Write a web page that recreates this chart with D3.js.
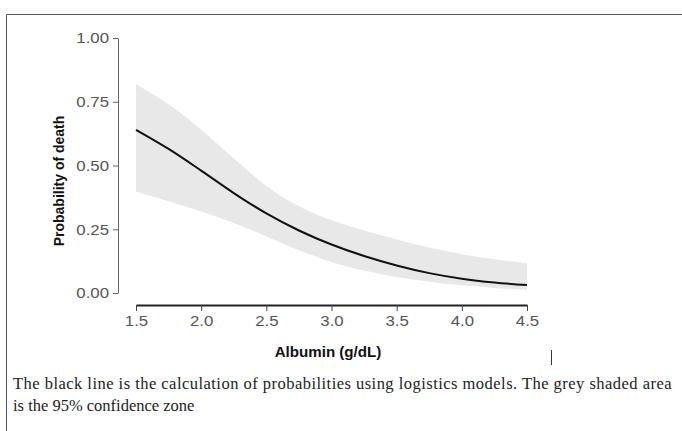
<!DOCTYPE html>
<html>
<head>
<meta charset="utf-8">
<script src="https://cdn.jsdelivr.net/npm/d3@7"></script>
<style>
  body { margin: 0; background: #fff; }
  svg { display: block; }
</style>
</head>
<body>
<div id="chart"></div>
<script>
// albumin values (g/dL) and the probabilities
const albumin = [1.5, 1.75, 2.0, 2.25, 2.5, 2.75, 3.0, 3.25, 3.5, 3.75, 4.0, 4.25, 4.5];
const probability = [0.64, 0.565, 0.48, 0.392, 0.312, 0.245, 0.19, 0.145, 0.108, 0.078, 0.056, 0.041, 0.031];
const upperCI = [0.82, 0.74, 0.64, 0.528, 0.42, 0.34, 0.285, 0.245, 0.21, 0.178, 0.152, 0.132, 0.116];
const lowerCI = [0.397, 0.36, 0.32, 0.275, 0.222, 0.168, 0.122, 0.088, 0.063, 0.044, 0.03, 0.02, 0.012];

const xTicks = [1.5, 2.0, 2.5, 3.0, 3.5, 4.0, 4.5];
const yTicks = [0, 0.25, 0.5, 0.75, 1.0];

const width = 682, height = 431;
const sans = "Liberation Sans, Arial, sans-serif";

const svg = d3.select("#chart")
  .append("svg")
  .attr("width", width)
  .attr("height", height);

// frame (top and left edge of the figure box)
svg.append("path")
  .attr("d", "M6.5,431 V14.5 H682")
  .attr("fill", "none")
  .attr("stroke", "#555")
  .attr("stroke-width", 1);

const x = d3.scaleLinear().domain([1.5, 4.5]).range([136, 527]);
const y = d3.scaleLinear().domain([0, 1]).range([293, 38]);

const data = albumin.map((a, i) => ({a: a, p: probability[i], lo: lowerCI[i], hi: upperCI[i]}));

// confidence band
svg.append("path")
  .datum(data)
  .attr("fill", "#e8e8e8")
  .attr("d", d3.area()
    .x(d => x(d.a))
    .y0(d => y(d.lo))
    .y1(d => y(d.hi))
    .curve(d3.curveCatmullRom));

// fitted line
svg.append("path")
  .datum(data)
  .attr("fill", "none")
  .attr("stroke", "#111")
  .attr("stroke-width", 2)
  .attr("d", d3.line()
    .x(d => x(d.a))
    .y(d => y(d.p))
    .curve(d3.curveCatmullRom));

// Y axis
const yAxis = svg.append("g")
  .attr("transform", "translate(118,0)")
  .call(d3.axisLeft(y).tickValues(yTicks).tickFormat(d3.format(".2f")).tickSize(5).tickSizeOuter(0));
yAxis.select(".domain").attr("stroke", "#666");
yAxis.selectAll(".tick line").attr("stroke", "#666");
yAxis.selectAll("text")
  .attr("fill", "#555")
  .attr("x", 0)
  .attr("transform", "translate(-9,0) scale(1.12,1)")
  .style("font-family", sans)
  .style("font-size", "15px");

// X axis
const xAxis = svg.append("g")
  .attr("transform", "translate(0,305)")
  .call(d3.axisBottom(x).tickValues(xTicks).tickFormat(d3.format(".1f")).tickSize(6).tickSizeOuter(0));
xAxis.select(".domain").attr("stroke", "#222").attr("stroke-width", 2);
xAxis.selectAll(".tick line").attr("stroke", "#444");
xAxis.selectAll("text")
  .attr("fill", "#555")
  .attr("y", 10)
  .attr("transform", "scale(1.12,1)")
  .style("font-family", sans)
  .style("font-size", "15px");

// axis titles
svg.append("text")
  .attr("transform", "translate(328,357) scale(1.08,1)")
  .attr("text-anchor", "middle")
  .style("font-family", sans)
  .style("font-size", "14px")
  .style("font-weight", "bold")
  .attr("fill", "#111")
  .text("Albumin (g/dL)");

svg.append("text")
  .attr("transform", "translate(64,181) rotate(-90)")
  .attr("text-anchor", "middle")
  .style("font-family", sans)
  .style("font-size", "14px")
  .style("font-weight", "bold")
  .attr("fill", "#111")
  .text("Probability of death");

// small mark under the chart
svg.append("line")
  .attr("x1", 551.5).attr("x2", 551.5)
  .attr("y1", 350).attr("y2", 365)
  .attr("stroke", "#333");

// caption, first line stretched to the full width
const caption = svg.append("text")
  .style("font-family", "Liberation Serif, Times New Roman, serif")
  .style("font-size", "16.5px")
  .attr("fill", "#222");
const line1 = caption.append("tspan").attr("x", 13).attr("y", 389)
  .text("The black line is the calculation of probabilities using logistics models. The grey shaded area");
caption.append("tspan").attr("x", 13).attr("y", 411)
  .text("is the 95% confidence zone");

const len1 = line1.node().getComputedTextLength();
const chars = line1.text().length;
line1.style("letter-spacing", ((659 - len1) / chars) + "px");
</script>
</body>
</html>
